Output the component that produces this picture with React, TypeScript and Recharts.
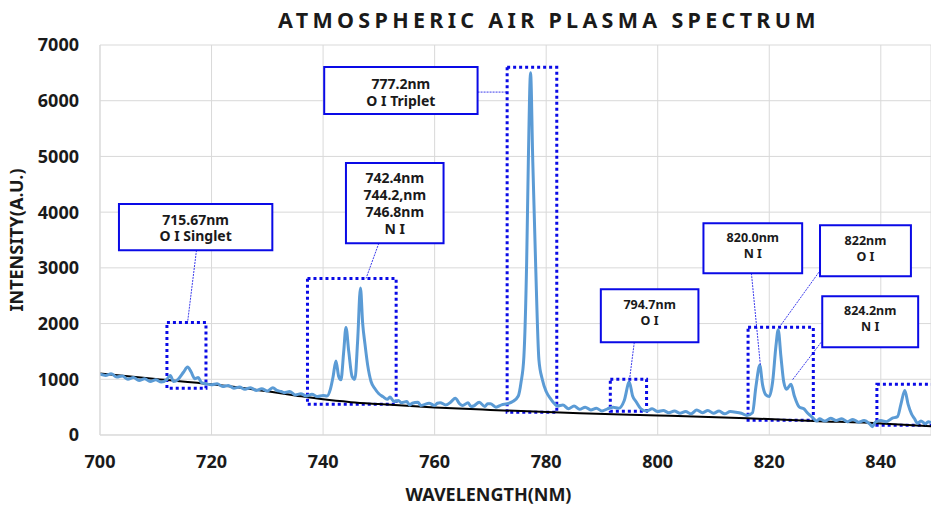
import React from 'react';
import {
  LineChart, Line, XAxis, YAxis, CartesianGrid, ReferenceArea, ReferenceLine,
} from 'recharts';

// ---- data ----
const wavelengths: number[] = [
  700, 701, 702, 703, 704, 705, 706, 707, 708, 709, 710, 711, 712, 712.6, 713.2, 714, 715, 715.7, 716.3, 717,
  717.6, 718.2, 719, 720, 721, 722, 723, 724, 725, 726, 727, 728, 729, 730, 731, 731.7, 732.5, 733, 734, 735,
  736, 737, 738, 739, 740, 740.7, 741.3, 741.8, 742.3, 742.8, 743.2, 743.7, 744.1, 744.6, 745.2, 745.7, 746.2, 746.7, 747.1, 747.5,
  748, 748.6, 749.3, 750, 750.7, 751.5, 752, 752.7, 753.5, 754, 755, 755.5, 756, 757, 757.5, 758, 759, 760, 760.5, 761, 762, 763, 763.7,
  764.5, 765, 766, 766.5, 767, 768, 769, 769.5, 770, 771, 772, 773, 774, 775, 775.5, 776, 776.5, 776.8, 777.2, 777.6, 778.1, 778.7,
  779.3, 780, 780.8, 781.5, 782, 783, 784, 785, 786, 787, 788, 789, 790, 791, 792, 793, 794, 794.9, 795.5, 796.1,
  797, 798, 799, 800, 801, 802, 803, 804, 805, 806, 807, 808, 809, 810, 811, 812, 813, 814, 815, 816,
  817, 817.6, 818.3, 818.8, 819.4, 820, 820.6, 821.2, 821.6, 822.1, 822.6, 823.1, 823.9, 824.5, 825.4, 826.2, 826.9, 827.7, 828.5, 829,
  830, 831, 832, 833, 834, 835, 836, 837, 838, 838.5, 839, 840, 841, 842, 843, 843.6, 844.3, 844.9, 845.5, 846,
  846.6, 847.2, 848, 848.5, 849,
];
const intensity: number[] = [
  1090, 1070, 1100, 1040, 1060, 1000, 1030, 980, 1010, 960, 990, 950, 1000, 1070, 960, 1000, 1130, 1220, 1140, 1010,
  1030, 940, 920, 900, 920, 870, 890, 840, 860, 820, 850, 800, 830, 790, 850, 800, 780, 760, 780, 720,
  740, 700, 730, 690, 710, 700, 820, 1050, 1330, 1050, 990, 1500, 1930, 1500, 1050, 1000, 1700, 2640, 2000, 1640,
  1250, 960, 830, 740, 690, 640, 680, 600, 620, 580, 600, 540, 570, 590, 530, 540, 570, 530, 570, 580, 540, 600, 660,
  560, 530, 580, 510, 520, 590, 510, 560, 560, 500, 540, 560, 600, 700, 950, 1400, 3100, 4900, 6500, 4900, 3100, 1350,
  1000, 780, 650, 560, 520, 540, 470, 520, 460, 500, 450, 480, 430, 470, 500, 480, 620, 950, 700, 600,
  470, 430, 470, 420, 440, 400, 430, 390, 420, 380, 450, 400, 440, 390, 430, 380, 420, 410, 390, 350,
  400, 860, 1250, 900, 720, 690, 950, 1600, 1890, 1400, 950, 820, 910, 700, 500, 470, 390, 320, 250, 290,
  250, 300, 260, 290, 240, 280, 230, 260, 200, 150, 230, 260, 240, 300, 330, 550, 800, 550, 380, 300,
  210, 250, 200, 240, 220,
];
const baselineWl: number[] = [700, 710, 720, 730, 735, 740, 745, 750, 760, 770, 786, 800, 816, 828, 840, 849];
const baselineVal: number[] = [1105, 1005, 910, 785, 710, 640, 590, 555, 495, 450, 390, 352, 302, 252, 207, 155];

const xTicks: number[] = [700, 720, 740, 760, 780, 800, 820, 840];
const yTicks: number[] = [0, 1000, 2000, 3000, 4000, 5000, 6000, 7000];

const TITLE = 'ATMOSPHERIC AIR PLASMA SPECTRUM';
const X_LABEL = 'WAVELENGTH(NM)';
const Y_LABEL = 'INTENSITY(A.U.)';

// highlighted (dotted) regions: [x1, x2, y1, y2]
const regions: number[][] = [
  [712, 719, 840, 2020],
  [737.2, 753.1, 550, 2810],
  [773, 781.9, 410, 6600],
  [791.5, 798, 425, 1000],
  [816.2, 827.9, 265, 1935],
  [839.3, 853, 175, 910],
];

// callout boxes with leader segments
type Callout = {
  x1: number; x2: number; y1: number; y2: number;
  lines: string[]; size: number; first: number; gap: number;
  from: [number, number]; to: [number, number];
};
const callouts: Callout[] = [
  { x1: 703.4, x2: 730.9, y1: 3318, y2: 4144, lines: ['715.67nm', 'O I Singlet'], size: 14, first: 21, gap: 16,
    from: [717.3, 3318], to: [715.7, 2020] },
  { x1: 744.1, x2: 761.6, y1: 3443, y2: 4880, lines: ['742.4nm', '744.2,nm', '746.8nm', 'N I'], size: 14, first: 20, gap: 17,
    from: [750.0, 3443], to: [747.7, 2810] },
  { x1: 740.2, x2: 767.7, y1: 5760, y2: 6604, lines: ['777.2nm', 'O I Triplet'], size: 14, first: 22, gap: 16.5,
    from: [767.7, 6155], to: [773, 6155] },
  { x1: 789.8, x2: 807.3, y1: 1664, y2: 2616, lines: ['794.7nm', 'O I'], size: 12.5, first: 19.5, gap: 16,
    from: [795.8, 1664], to: [794.9, 960] },
  { x1: 808.2, x2: 825.9, y1: 2904, y2: 3802, lines: ['820.0nm', 'N I'], size: 12.5, first: 18.5, gap: 16,
    from: [816.8, 2904], to: [818.4, 1260] },
  { x1: 829.1, x2: 845.4, y1: 2850, y2: 3766, lines: ['822nm', 'O I'], size: 12.5, first: 19.5, gap: 16,
    from: [828.9, 2922], to: [821.8, 1934] },
  { x1: 829.5, x2: 846.7, y1: 1575, y2: 2491, lines: ['824.2nm', 'N I'], size: 12.5, first: 18.5, gap: 16,
    from: [829.3, 1664], to: [824.1, 982] },
];

const spectrumData = wavelengths.map((w, i) => ({ w, v: intensity[i] }));
const baselineData = baselineWl.map((w, i) => ({ w, b: baselineVal[i] }));

const FONT = '"Noto Sans", "DejaVu Sans", sans-serif';
const TEXT = '#1a1a1a';
const BLUE = '#0a0ae6';

const boxLabel = (c: Callout) => (props: any) => {
  const vb = props.viewBox || {};
  const cx = vb.x + vb.width / 2;
  return (
    <g>
      {c.lines.map((l, i) => (
        <text key={i} x={cx} y={vb.y + c.first + i * c.gap} textAnchor="middle" fontFamily={FONT}
          fontWeight="bold" fontSize={c.size} fill={TEXT}>{l}</text>
      ))}
    </g>
  );
};

const xLabel = (props: any) => {
  const vb = props.viewBox || {};
  return (
    <text x={vb.x + vb.width / 2 - 27} y={vb.y + 66} textAnchor="middle" fontFamily={FONT} fontWeight="bold" fontSize={18} fill={TEXT}>
      {X_LABEL}
    </text>
  );
};

const yLabel = (props: any) => {
  const vb = props.viewBox || {};
  const x = vb.x + 23;
  const y = vb.y + vb.height / 2;
  return (
    <text x={x} y={y} transform={`rotate(-90, ${x}, ${y})`} textAnchor="middle" fontFamily={FONT} fontWeight="bold" fontSize={18} fill={TEXT}>
      {Y_LABEL}
    </text>
  );
};

export default function App() {
  const tickStyle = { fontFamily: FONT, fontWeight: 'bold', fontSize: 18, fill: TEXT };
  return (
    <div style={{ position: 'absolute', left: 0, top: 0, width: 931, height: 506, background: '#fff', overflow: 'hidden' }}>
      <svg width={931} height={40} style={{ position: 'absolute', left: 0, top: 0 }}>
        <text x={549} y={28} textAnchor="middle" fontFamily={FONT} fontWeight="bold" fontSize={21.5} letterSpacing={4.3} fill={TEXT}>
          {TITLE}
        </text>
      </svg>
      <LineChart width={931} height={506} margin={{ top: 45, right: 0, bottom: 0, left: 0 }}>
        <CartesianGrid stroke="#d9d9d9" strokeWidth={1} />
        <XAxis
          dataKey="w" type="number" domain={[700, 849]} ticks={xTicks} allowDataOverflow
          height={71} tickLine={false} tickSize={6} tickMargin={14}
          axisLine={{ stroke: '#d9d9d9' }} tick={tickStyle} label={xLabel}
        />
        <YAxis
          type="number" domain={[0, 7000]} ticks={yTicks} width={100} allowDataOverflow
          tickLine={false} tickSize={6} tickMargin={15}
          axisLine={{ stroke: '#d9d9d9' }} tick={tickStyle} label={yLabel}
        />
        {callouts.map((c, i) => (
          <ReferenceArea key={'c' + i} x1={c.x1} x2={c.x2} y1={c.y1} y2={c.y2}
            fill="#ffffff" fillOpacity={1} stroke={BLUE} strokeWidth={2} label={boxLabel(c)} />
        ))}
        <Line data={baselineData} dataKey="b" type="monotone" stroke="#000000" strokeWidth={2} dot={false} isAnimationActive={false} />
        <Line data={spectrumData} dataKey="v" type="monotone" stroke="#5b9bd5" strokeWidth={3} dot={false} isAnimationActive={false} />
        {regions.map((r, i) => (
          <ReferenceArea key={'r' + i} x1={r[0]} x2={r[1]} y1={r[2]} y2={r[3]} ifOverflow="hidden"
            fill="none" fillOpacity={0} stroke={BLUE} strokeWidth={3} strokeDasharray="3 3" />
        ))}
        {callouts.map((c, i) => (
          <ReferenceLine key={'l' + i} segment={[{ x: c.from[0], y: c.from[1] }, { x: c.to[0], y: c.to[1] }]}
            stroke={BLUE} strokeWidth={0.8} strokeDasharray="2 1" />
        ))}
      </LineChart>
    </div>
  );
}
